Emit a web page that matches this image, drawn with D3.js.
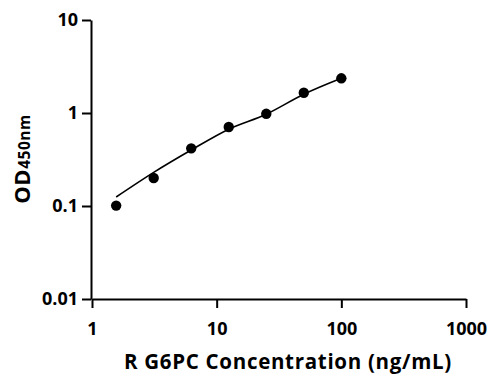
<!DOCTYPE html>
<html><head><meta charset="utf-8">
<script src="https://cdn.jsdelivr.net/npm/d3@7"></script>
<style>
html,body{margin:0;padding:0;background:#fff;}
svg{display:block;}
text{font-family:"Open Sans",sans-serif;font-weight:700;fill:#000;}
</style></head>
<body>
<svg id="chart" width="499" height="391"></svg>
<script>
// Data
const concentrations = [1.5625, 3.125, 6.25, 12.5, 25, 50, 100];
const odValues = [0.101, 0.20, 0.417, 0.707, 0.98, 1.65, 2.36];
// Fitted curve
const curveX = [1.5625, 3.125, 6.25, 12.5, 25, 50, 100];
const curveY = [0.125, 0.23, 0.40, 0.67, 0.97, 1.59, 2.36];
const xTicks = [1, 10, 100, 1000];
const yTicks = [0.01, 0.1, 1, 10];
const xTitle = "R G6PC Concentration (ng/mL)";

const svg = d3.select("#chart");
const x = d3.scaleLog().domain([1, 1000]).range([92, 466]);
const y = d3.scaleLog().domain([0.01, 10]).range([299, 20]);

const fmt = d => String(d);

const xAxis = svg.append("g").attr("transform", "translate(0,299)")
  .call(d3.axisBottom(x).tickValues(xTicks).tickFormat(fmt).tickSize(9).tickSizeOuter(0).tickPadding(14));
const yAxis = svg.append("g").attr("transform", "translate(91,0)")
  .call(d3.axisLeft(y).tickValues(yTicks).tickFormat(fmt).tickSize(9).tickSizeOuter(0).tickPadding(4));

[xAxis, yAxis].forEach(g => {
  g.select(".domain").attr("stroke", "#000").attr("stroke-width", 2);
  g.selectAll(".tick line").attr("stroke", "#000").attr("stroke-width", 2);
  g.selectAll(".tick text").style("font-family", "'Open Sans',sans-serif")
    .style("font-weight", 700).style("font-size", "18px").attr("fill", "#000");
});

// curve
const line = d3.line().x(d => x(d[0])).y(d => y(d[1])).curve(d3.curveMonotoneX);
svg.append("path").datum(curveX.map((c, i) => [c, curveY[i]]))
  .attr("d", line).attr("fill", "none").attr("stroke", "#000").attr("stroke-width", 1.6);

// points
svg.selectAll("circle.pt").data(concentrations.map((c, i) => [c, odValues[i]]))
  .enter().append("circle").attr("class", "pt")
  .attr("cx", d => x(d[0])).attr("cy", d => y(d[1])).attr("r", 5.2).attr("fill", "#000");

// titles
svg.append("text").attr("x", 288).attr("y", 369).attr("text-anchor", "middle")
  .style("font-size", "20.5px").style("letter-spacing", "0.7px").text(xTitle);

const yt = svg.append("text").attr("transform", "translate(30,159) rotate(-90)")
  .attr("text-anchor", "middle");
yt.append("tspan").style("font-size", "22px").style("letter-spacing", "0.5px").text("OD");
yt.append("tspan").style("font-size", "15.5px").style("letter-spacing", "0.5px").text("450nm");
</script>
</body></html>
